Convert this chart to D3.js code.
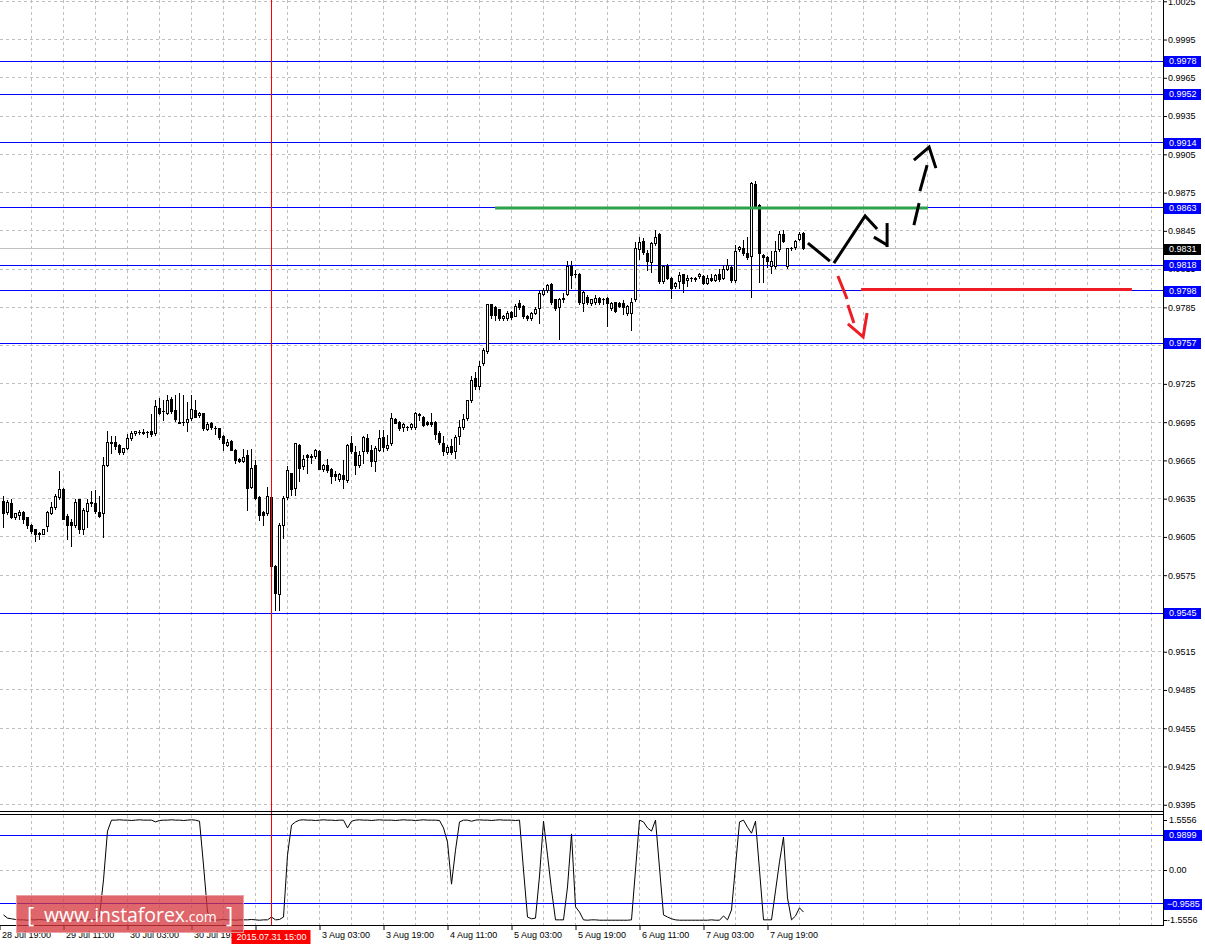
<!DOCTYPE html>
<html><head><meta charset="utf-8">
<script src="https://cdn.jsdelivr.net/npm/d3@7"></script>
<style>
html,body{margin:0;padding:0;background:#fff;}
svg{display:block;}
</style></head><body>
<svg id="c" width="1205" height="946"></svg>
<script>
// ---------- DATA ----------
const ohlc = [
[.9633,.9637,.9613,.9623],[.9624,.9634,.9623,.9632],[.9631,.9635,.9620,.9620],[.9620,.9624,.9619,.9623],[.9622,.9626,.9619,.9624],
[.9624,.9625,.9616,.9619],[.9620,.9621,.9612,.9614],[.9614,.9615,.9608,.9609],[.9611,.9611,.9602,.9607],[.9608,.9609,.9603,.9607],
[.9607,.9611,.9607,.9611],[.9613,.9625,.9610,.9624],[.9623,.9632,.9623,.9628],[.9628,.9639,.9627,.9637],[.9636,.9657,.9635,.9642],
[.9642,.9643,.9619,.9619],[.9621,.9623,.9603,.9614],[.9616,.9619,.9598,.9614],[.9614,.9635,.9613,.9632],[.9634,.9635,.9608,.9611],
[.9611,.9628,.9607,.9626],[.9625,.9635,.9613,.9631],[.9632,.9641,.9629,.9631],[.9631,.9642,.9624,.9625],[.9624,.9637,.9621,.9621],
[.9623,.9668,.9605,.9661],[.9661,.9688,.9661,.9679],[.9679,.9684,.9671,.9678],[.9679,.9684,.9674,.9676],[.9677,.9678,.9670,.9671],
[.9671,.9675,.9670,.9674],[.9674,.9686,.9674,.9682],[.9682,.9688,.9681,.9686],[.9686,.9688,.9685,.9688],[.9687,.9689,.9686,.9687],
[.9687,.9690,.9686,.9686],[.9687,.9688,.9683,.9687],[.9688,.9701,.9684,.9685],[.9686,.9712,.9685,.9707],[.9706,.9714,.9701,.9702],
[.9703,.9712,.9697,.9703],[.9702,.9716,.9701,.9712],[.9713,.9715,.9702,.9703],[.9704,.9716,.9696,.9697],[.9695,.9718,.9694,.9694],
[.9695,.9716,.9693,.9695],[.9695,.9711,.9688,.9697],[.9698,.9716,.9697,.9705],[.9704,.9712,.9699,.9699],[.9700,.9703,.9699,.9702],
[.9702,.9702,.9689,.9690],[.9689,.9695,.9689,.9693],[.9694,.9695,.9690,.9691],[.9690,.9692,.9686,.9690],[.9690,.9690,.9682,.9683],
[.9684,.9685,.9673,.9678],[.9677,.9682,.9676,.9679],[.9680,.9681,.9673,.9673],[.9673,.9674,.9663,.9665],[.9666,.9667,.9664,.9664],
[.9664,.9674,.9664,.9667],[.9669,.9673,.9626,.9643],[.9644,.9674,.9643,.9659],[.9661,.9665,.9635,.9635],[.9636,.9637,.9618,.9622],
[.9624,.9625,.9614,.9622],[.9623,.9644,.9622,.9637],[.9636,.9637,.9579,.9582],[.9582,.9583,.9548,.9561],[.9560,.9616,.9548,.9614],
[.9614,.9637,.9604,.9635],[.9636,.9661,.9635,.9657],[.9655,.9655,.9638,.9642],[.9643,.9679,.9638,.9678],[.9677,.9678,.9649,.9659],
[.9660,.9669,.9658,.9666],[.9669,.9670,.9655,.9667],[.9668,.9670,.9663,.9667],[.9668,.9674,.9667,.9673],[.9672,.9673,.9658,.9658],
[.9658,.9662,.9657,.9661],[.9661,.9666,.9656,.9657],[.9658,.9659,.9647,.9652],[.9654,.9657,.9650,.9652],[.9650,.9655,.9649,.9654],
[.9653,.9665,.9643,.9650],[.9649,.9678,.9648,.9677],[.9678,.9684,.9671,.9672],[.9671,.9676,.9654,.9661],[.9661,.9672,.9660,.9669],
[.9672,.9684,.9663,.9683],[.9682,.9686,.9671,.9672],[.9673,.9677,.9661,.9664],[.9664,.9676,.9657,.9674],[.9673,.9689,.9672,.9682],
[.9683,.9689,.9672,.9675],[.9674,.9685,.9673,.9677],[.9678,.9702,.9677,.9698],[.9697,.9698,.9694,.9694],[.9695,.9696,.9689,.9690],
[.9691,.9694,.9688,.9693],[.9691,.9692,.9689,.9691],[.9691,.9694,.9690,.9693],[.9691,.9703,.9690,.9702],[.9701,.9702,.9697,.9700],
[.9699,.9700,.9692,.9692],[.9695,.9696,.9693,.9693],[.9695,.9702,.9692,.9693],[.9695,.9696,.9682,.9685],[.9686,.9688,.9678,.9679],
[.9678,.9684,.9669,.9672],[.9671,.9677,.9670,.9675],[.9676,.9682,.9670,.9671],[.9672,.9685,.9667,.9683],[.9684,.9697,.9678,.9691],
[.9691,.9701,.9690,.9697],[.9698,.9712,.9697,.9712],[.9712,.9731,.9711,.9728],[.9729,.9734,.9721,.9723],[.9723,.9743,.9721,.9739],
[.9741,.9753,.9740,.9751],[.9750,.9788,.9749,.9787],[.9787,.9788,.9777,.9779],[.9785,.9786,.9775,.9779],[.9783,.9784,.9775,.9776],
[.9776,.9779,.9775,.9778],[.9776,.9782,.9775,.9780],[.9781,.9782,.9776,.9777],[.9778,.9788,.9778,.9786],[.9788,.9791,.9784,.9785],
[.9786,.9787,.9777,.9778],[.9778,.9779,.9775,.9776],[.9776,.9781,.9775,.9780],[.9780,.9785,.9780,.9783],[.9784,.9798,.9773,.9796],
[.9795,.9800,.9795,.9798],[.9798,.9803,.9797,.9802],[.9803,.9804,.9788,.9789],[.9791,.9791,.9783,.9784],[.9785,.9792,.9760,.9791],
[.9791,.9796,.9789,.9792],[.9795,.9821,.9795,.9817],[.9817,.9821,.9800,.9810],[.9811,.9814,.9809,.9811],[.9811,.9812,.9788,.9789],
[.9788,.9798,.9782,.9797],[.9793,.9795,.9788,.9789],[.9788,.9791,.9787,.9791],[.9789,.9795,.9788,.9792],[.9792,.9793,.9788,.9789],
[.9791,.9792,.9788,.9791],[.9792,.9793,.9770,.9788],[.9784,.9789,.9783,.9788],[.9789,.9789,.9781,.9782],[.9788,.9789,.9785,.9786],
[.9788,.9791,.9780,.9785],[.9780,.9787,.9779,.9786],[.9780,.9792,.9767,.9789],[.9791,.9836,.9790,.9831],[.9830,.9840,.9823,.9836],
[.9837,.9839,.9827,.9828],[.9827,.9830,.9814,.9821],[.9820,.9836,.9813,.9835],[.9835,.9846,.9834,.9840],[.9842,.9843,.9804,.9805],
[.9805,.9818,.9804,.9817],[.9817,.9819,.9807,.9808],[.9808,.9809,.9792,.9800],[.9801,.9805,.9800,.9804],[.9805,.9813,.9800,.9810],
[.9811,.9811,.9797,.9804],[.9806,.9810,.9802,.9808],[.9808,.9809,.9806,.9808],[.9807,.9809,.9806,.9808],[.9809,.9812,.9808,.9811],
[.9809,.9810,.9803,.9804],[.9804,.9810,.9803,.9808],[.9808,.9811,.9806,.9806],[.9806,.9811,.9806,.9810],[.9811,.9815,.9806,.9807],
[.9808,.9818,.9807,.9815],[.9815,.9823,.9814,.9818],[.9816,.9818,.9805,.9806],[.9806,.9834,.9805,.9829],[.9830,.9833,.9829,.9832],
[.9831,.9838,.9826,.9827],[.9827,.9840,.9823,.9824],[.9825,.9883,.9793,.9882],[.9881,.9884,.9863,.9864],[.9865,.9866,.9805,.9827],
[.9826,.9827,.9805,.9824],[.9824,.9825,.9817,.9821],[.9817,.9829,.9812,.9821],[.9817,.9837,.9816,.9829],[.9830,.9845,.9829,.9842],
[.9842,.9846,.9836,.9837],[.9817,.9831,.9816,.9831],[.9831,.9832,.9830,.9831],[.9832,.9838,.9831,.9837],[.9838,.9844,.9838,.9842],
[.9843,.9844,.9831,.9831]
];

const oscillator = [
-1.27,-1.36,-1.38,-1.40,-1.41,-1.41,-1.42,-1.41,-1.41,-1.40,-1.41,-1.42,-1.41,-1.41,-1.40,-1.41,-1.41,-1.42,-1.41,-1.40,-1.41,-1.41,-1.41,-1.40,
-1.30,-0.28,1.10,1.41,
1.41,1.42,1.41,1.41,1.40,1.41,1.42,1.41,1.41,1.41,1.36,1.40,1.41,1.41,1.42,1.41,1.41,1.40,1.41,1.42,1.41,
1.38,0.14,-1.19,
-1.41,-1.42,-1.41,-1.40,-1.41,-1.41,-1.42,-1.41,-1.41,-1.41,-1.40,-1.41,-1.42,-1.41,-1.41,
-1.33,-1.41,-1.40,-1.33,0.42,1.27,1.36,
1.41,1.42,1.41,1.41,1.40,1.41,1.42,1.41,1.41,1.40,1.41,1.41,
1.19,1.38,
1.41,1.42,1.41,1.41,1.40,1.41,1.42,1.41,1.41,1.41,1.40,1.41,1.42,1.41,1.41,1.40,1.41,1.42,1.41,1.41,1.41,
1.40,1.19,0.79,-0.40,0.56,1.36,
1.41,1.41,1.38,1.41,1.42,1.41,1.41,1.40,1.41,1.42,1.41,1.41,1.41,1.40,1.41,
0.00,-1.33,-1.38,-1.36,-0.17,1.38,0.42,-0.56,-1.41,-1.41,-1.41,-0.48,1.02,-1.04,-1.19,
-1.41,-1.42,-1.41,-1.41,-1.42,-1.42,-1.42,-1.42,-1.42,-1.42,-1.42,-1.42,
-1.41,0.00,1.41,1.36,1.19,1.10,1.41,0.06,-1.27,-1.33,-1.38,
-1.41,-1.42,-1.42,-1.42,-1.42,-1.42,-1.42,-1.42,-1.42,-1.41,-1.42,-1.42,
-1.30,-1.41,-1.13,0.11,1.36,1.41,1.21,1.04,1.38,0.00,-1.41,-1.41,-1.41,-0.59,0.23,0.93,-0.79,-1.41,-1.30,-1.07,-1.19
];

const priceTicks = [1.0025,0.9995,0.9965,0.9935,0.9905,0.9875,0.9845,0.9815,0.9785,0.9755,0.9725,
                    0.9695,0.9665,0.9635,0.9605,0.9575,0.9545,0.9515,0.9485,0.9455,0.9425,0.9395];
const levelLines = [0.9978,0.9952,0.9914,0.9863,0.9818,0.9798,0.9757,0.9545];
const bidPrice = 0.9831;
const oscLevels = [0.9899,-0.9585];
const oscTicks = [1.5556,0.00,-1.5556];
const oscTickLabels = ["1.5556","0.00","-1.5556"];
const timeBars = [-1,15,31,47,63,79,95,111,127,143,159,175,191];
const timeLabels = ["28 Jul 19:00","29 Jul 11:00","30 Jul 03:00","30 Jul 19:00","31 Jul 11:00","3 Aug 03:00",
                    "3 Aug 19:00","4 Aug 11:00","5 Aug 03:00","5 Aug 19:00","6 Aug 11:00","7 Aug 03:00","7 Aug 19:00"];
const crossBar = 67;
const crossLabel = "2015.07.31 15:00";
// drawn objects: [bar index, price]
const greenLine = [[122.9,0.9863],[231.1,0.9863]];
const redLine = [[214.4,0.9799],[282.1,0.9799]];
const blackPaths = [
  [[201.1,0.98354],[206.6,0.98213]],
  [[207.6,0.98197],[215.4,0.98566],[218.4,0.98464]],
  [[217.6,0.98401],[220.9,0.98339]],
  [[220.9,0.98511],[220.9,0.98323]],
  [[227.6,0.98495],[228.9,0.98668]],
  [[229.1,0.98762],[230.9,0.98966]],
  [[227.6,0.99005],[231.4,0.99107],[233.1,0.98942]]
];
const redPaths = [
  [[208.6,0.98096],[210.9,0.97916]],
  [[211.1,0.97869],[212.6,0.97728]],
  [[211.1,0.97720],[214.9,0.97618],[215.9,0.97806]]
];

// ---------- LAYOUT ----------
const W = 1205, H = 946;
const axisX = 1163;
const mainTop = 0, mainBottom = 811;
const oscTop = 815, oscBottom = 925;
const FONT = '"Liberation Sans", Arial, sans-serif';
const BLUE = "#0000ff";

const svg = d3.select("#c");
svg.append("rect").attr("width",W).attr("height",H).attr("fill","#fff");

const x = d3.scaleLinear().domain([-1,290]).range([-0.5,1163.5]);
const y = d3.scaleLinear().domain([0.93901,1.00260]).range([mainBottom,mainTop]);
const yo = d3.scaleLinear().domain([-1.5556,1.5556]).range([oscBottom,oscTop]);
const snap = v => Math.round(v - 0.5) + 0.5;

const defs = svg.append("defs");
defs.append("clipPath").attr("id","mainClip").append("rect")
  .attr("x",0).attr("y",mainTop).attr("width",axisX).attr("height",mainBottom-mainTop);
defs.append("clipPath").attr("id","oscClip").append("rect")
  .attr("x",0).attr("y",oscTop).attr("width",axisX).attr("height",oscBottom-oscTop);

const main = svg.append("g").attr("clip-path","url(#mainClip)");
const osc = svg.append("g").attr("clip-path","url(#oscClip)");

// grid
const gridBars = d3.range(7, 290, 8);
main.append("g").selectAll("line").data(priceTicks).join("line")
  .attr("x1",0).attr("x2",axisX).attr("y1",d=>snap(y(d))).attr("y2",d=>snap(y(d)))
  .attr("stroke","#c0c0c0").attr("stroke-dasharray","3,3");
main.append("g").selectAll("line").data(gridBars).join("line")
  .attr("x1",d=>x(d)).attr("x2",d=>x(d)).attr("y1",mainTop).attr("y2",mainBottom)
  .attr("stroke","#c0c0c0").attr("stroke-dasharray","3,3");
osc.append("g").selectAll("line").data(gridBars).join("line")
  .attr("x1",d=>x(d)).attr("x2",d=>x(d)).attr("y1",oscTop).attr("y2",oscBottom)
  .attr("stroke","#c0c0c0").attr("stroke-dasharray","3,3");
osc.append("line").attr("x1",0).attr("x2",axisX).attr("y1",snap(yo(0))).attr("y2",snap(yo(0)))
  .attr("stroke","#c0c0c0").attr("stroke-dasharray","3,3");

// bid line
main.append("line").attr("x1",0).attr("x2",axisX).attr("y1",snap(y(bidPrice))).attr("y2",snap(y(bidPrice)))
  .attr("stroke","#c0c0c0");

// level lines
main.append("g").selectAll("line").data(levelLines).join("line")
  .attr("x1",0).attr("x2",axisX).attr("y1",d=>snap(y(d))).attr("y2",d=>snap(y(d)))
  .attr("stroke",BLUE);
osc.append("g").selectAll("line").data(oscLevels).join("line")
  .attr("x1",0).attr("x2",axisX).attr("y1",d=>snap(yo(d))).attr("y2",d=>snap(yo(d)))
  .attr("stroke",BLUE);

// candles
const cg = main.append("g").attr("shape-rendering","crispEdges");
cg.selectAll("line.w").data(ohlc).join("line").attr("class","w")
  .attr("x1",(d,i)=>x(i)).attr("x2",(d,i)=>x(i))
  .attr("y1",d=>Math.round(y(d[1]))).attr("y2",d=>Math.round(y(d[2]))+1)
  .attr("stroke","#000");
ohlc.forEach((d,i)=>{
  const cx = x(i);
  const yt = snap(y(Math.max(d[0],d[3])));
  const yb = snap(y(Math.min(d[0],d[3])));
  if (yb - yt < 1) {
    cg.append("line").attr("x1",cx-1.5).attr("x2",cx+1.5).attr("y1",yt).attr("y2",yt).attr("stroke","#000");
  } else {
    cg.append("rect").attr("x",cx-1).attr("y",yt).attr("width",2).attr("height",yb-yt)
      .attr("fill", d[3] >= d[0] ? "#fff" : "#000").attr("stroke","#000");
  }
});

// oscillator line
osc.append("path").datum(oscillator)
  .attr("d", d3.line().x((d,i)=>x(i)).y(d=>yo(d)))
  .attr("fill","none").attr("stroke","#000").attr("stroke-width",1);

// drawn objects
const pline = d3.line().x(d=>x(d[0])).y(d=>y(d[1]));
main.append("path").attr("d",pline(greenLine)).attr("stroke","#2aa34a").attr("stroke-width",3).attr("fill","none");
main.append("path").attr("d",pline(redLine)).attr("stroke","#ee1c24").attr("stroke-width",3).attr("fill","none");
main.append("g").selectAll("path").data(blackPaths).join("path")
  .attr("d",d=>pline(d)).attr("stroke","#000").attr("stroke-width",3).attr("fill","none")
  .attr("stroke-linejoin","miter");
main.append("g").selectAll("path").data(redPaths).join("path")
  .attr("d",d=>pline(d)).attr("stroke","#ee1c24").attr("stroke-width",3).attr("fill","none");

// crosshair
svg.append("line").attr("x1",x(crossBar)).attr("x2",x(crossBar)).attr("y1",0).attr("y2",oscBottom+1)
  .attr("stroke","#ff0000");

// panel borders
svg.append("line").attr("x1",0).attr("x2",axisX+0.5).attr("y1",mainBottom+0.5).attr("y2",mainBottom+0.5).attr("stroke","#000");
svg.append("line").attr("x1",0).attr("x2",axisX+0.5).attr("y1",oscTop-0.5).attr("y2",oscTop-0.5).attr("stroke","#000");
svg.append("line").attr("x1",0).attr("x2",axisX+0.5).attr("y1",oscBottom+0.5).attr("y2",oscBottom+0.5).attr("stroke","#000");
svg.append("line").attr("x1",axisX+0.5).attr("x2",axisX+0.5).attr("y1",0).attr("y2",oscBottom+1).attr("stroke","#000");

// price axis (tick labels hidden under a level box are left out, as in the reference)
const boxedYs = levelLines.map(v=>y(v));
const pa = svg.append("g").attr("transform",`translate(${axisX},0)`)
  .call(d3.axisRight(y).tickValues(priceTicks).tickSize(4).tickPadding(1)
    .tickFormat(d => boxedYs.some(b=>Math.abs(b-y(d))<3.5) ? "" : d3.format(".4f")(d)));
pa.select(".domain").remove();
pa.attr("font-family",FONT).attr("font-size",9);
pa.selectAll("line").attr("stroke","#000");
pa.selectAll("text").attr("fill","#000");

function boxLabel(yy, txt, fill){
  const g = svg.append("g");
  g.append("rect").attr("x",axisX+1).attr("y",Math.round(yy)-5).attr("width",37).attr("height",11).attr("fill",fill);
  g.append("text").attr("x",axisX+6).attr("y",Math.round(yy)+0.5).attr("dy","0.32em")
    .attr("font-family",FONT).attr("font-size",9).attr("fill","#fff").text(txt);
}
levelLines.forEach(v=>boxLabel(y(v), d3.format(".4f")(v), BLUE));
boxLabel(y(bidPrice), d3.format(".4f")(bidPrice), "#000");

// oscillator axis
oscTicks.forEach((v,i)=>{
  let yy = yo(v);
  yy = Math.max(oscTop+5, Math.min(oscBottom-5, yy));
  svg.append("line").attr("x1",axisX).attr("x2",axisX+4).attr("y1",snap(yy)).attr("y2",snap(yy)).attr("stroke","#000");
  svg.append("text").attr("x",axisX+(v<0?4:6)).attr("y",yy).attr("dy","0.32em")
    .attr("font-family",FONT).attr("font-size",9).attr("fill","#000").text(oscTickLabels[i]);
});
oscLevels.forEach(v=>{
  const yy = yo(v);
  svg.append("rect").attr("x",axisX+1).attr("y",Math.round(yy)-5).attr("width",38).attr("height",11).attr("fill",BLUE);
  svg.append("text").attr("x",axisX+(v<0?4:6)).attr("y",Math.round(yy)+0.5).attr("dy","0.32em")
    .attr("font-family",FONT).attr("font-size",9).attr("fill","#fff").text(d3.format(".4f")(v));
});

// time axis (the label under the crosshair box is hidden in the reference)
const cxl = x(crossBar);
const ta = svg.append("g").attr("transform",`translate(0,${oscBottom+1})`)
  .call(d3.axisBottom(x).tickValues(timeBars).tickSize(4).tickPadding(2)
    .tickFormat((d,i)=> (x(d) > cxl-40 && x(d) < cxl+40) ? "" : timeLabels[i]));
ta.select(".domain").remove();
ta.attr("font-family",FONT).attr("font-size",9);
ta.selectAll("line").attr("stroke","#000");
ta.selectAll("text").attr("text-anchor","start").attr("x",2).attr("fill","#000");

// crosshair time label
svg.append("rect").attr("x",cxl-40).attr("y",930).attr("width",79).attr("height",14).attr("fill","#ff0000");
svg.append("text").attr("x",cxl).attr("y",937).attr("dy","0.35em").attr("text-anchor","middle")
  .attr("font-family",FONT).attr("font-size",9).attr("fill","#fff").text(crossLabel);

// watermark
const wm = svg.append("g");
wm.append("rect").attr("x",16.5).attr("y",895.5).attr("width",227).attr("height",37)
  .attr("fill","#d5373d").attr("fill-opacity",0.76).attr("stroke","#eaa0a2").attr("stroke-opacity",0.9);
wm.append("text").attr("x",27).attr("y",923).attr("fill","#fff").attr("font-family",'"Open Sans", sans-serif')
  .attr("font-size",22).text("[");
wm.append("text").attr("x",44).attr("y",922).attr("fill","#fff").attr("font-family",'"Open Sans", sans-serif')
  .attr("font-size",19.5).attr("textLength",141).text("www.instaforex");
wm.append("text").attr("x",185).attr("y",922).attr("fill","#fff").attr("font-family",'"Open Sans", sans-serif')
  .attr("font-size",14).text(".com");
wm.append("text").attr("x",226).attr("y",923).attr("fill","#fff").attr("font-family",'"Open Sans", sans-serif')
  .attr("font-size",22).text("]");
</script>
</body></html>
